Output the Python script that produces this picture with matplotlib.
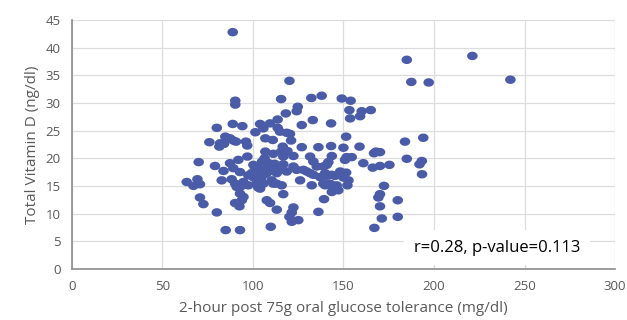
import matplotlib
matplotlib.use('Agg')
import matplotlib.pyplot as plt
import numpy as np
from matplotlib.path import Path

# 2-hour post 75g OGTT (mg/dl)
glucose = [
    88.9, 90.3, 90.3, 120.2, 115.6, 118.2, 124.8, 124.2, 132.3, 138.0,
    149.1, 154.0, 153.3, 160.1, 165.1, 159.2, 153.7, 133.1, 127.0, 143.2,
    185.0, 221.2, 187.5, 197.1, 242.2,
    88.9, 94.2, 80.1, 104.0, 109.5, 113.7, 101.4, 105.8, 113.7, 115.0,
    118.7, 120.5, 121.1, 106.9, 111.0, 84.8, 87.4, 89.2, 76.0, 81.9,
    81.5, 84.1, 90.7, 96.2, 96.9, 151.5, 184.0, 194.1,
    116.5, 115.6, 119.1, 127.0, 136.2, 143.2, 150.0, 158.9, 106.9, 111.3,
    116.8, 122.4, 97.0, 166.9, 168.0, 170.2, 143.6, 131.6, 151.8, 154.6,
    150.9,
    70.1, 79.1, 87.4, 92.0, 100.3, 105.1, 102.1, 108.8, 116.8, 122.4,
    133.4, 135.3, 141.7, 138.9, 140.8, 161.0, 185.0, 193.3, 192.0, 166.2,
    170.2, 175.4,
    83.8, 89.2, 92.9, 99.4, 104.0, 107.7, 113.2, 118.7, 124.2, 129.8,
    115.0, 127.9, 131.6, 133.4, 137.1, 140.8, 145.4, 151.5, 150.0, 148.2,
    143.6, 139.9, 193.4,
    63.5, 67.2, 69.4, 70.8, 82.8, 88.3, 90.2, 94.8, 97.5, 102.1,
    103.0, 110.4, 113.2, 115.9, 126.1, 132.5, 152.8, 152.2, 139.9, 143.6,
    138.9, 142.6, 146.3, 105.8, 104.0, 111.3, 172.4, 144.5, 147.2, 143.6,
    91.1, 93.9,
    92.9, 94.8, 70.8, 72.7, 90.2, 92.6, 93.9, 107.7, 109.5, 116.8,
    113.2, 80.1, 122.4, 121.5, 120.2, 121.5, 125.1, 109.9, 85.0, 92.9,
    136.2, 139.3, 170.2, 169.3, 170.2, 180.0, 180.0, 171.2, 167.1,
    101.0, 103.5, 106.0, 108.0, 110.0, 104.5, 100.5, 97.5, 112.0, 106.5,
]

# Total vitamin D (ng/dl)
vitamin_d = [
    42.8, 30.4, 29.7, 34.0, 30.7, 28.1, 29.3, 28.5, 30.9, 31.3,
    30.8, 30.4, 28.7, 28.5, 28.7, 27.6, 27.2, 26.9, 26.0, 26.3,
    37.8, 38.5, 33.8, 33.7, 34.2,
    26.2, 25.8, 25.5, 26.2, 26.3, 27.0, 24.7, 25.4, 25.5, 24.8,
    24.6, 24.4, 23.2, 23.6, 23.3, 23.9, 23.6, 23.2, 22.9, 22.7,
    22.1, 22.6, 23.0, 23.0, 22.3, 23.9, 23.0, 23.7,
    22.1, 21.2, 21.3, 22.0, 22.0, 22.2, 21.9, 22.1, 21.2, 20.8,
    20.3, 20.4, 20.3, 20.9, 21.2, 21.1, 20.4, 20.3, 20.2, 20.2,
    19.7,
    19.3, 18.6, 19.1, 19.7, 18.8, 19.4, 18.5, 19.1, 18.9, 18.5,
    19.4, 18.5, 19.3, 18.5, 18.8, 19.1, 19.9, 19.5, 18.9, 18.3,
    18.6, 18.8,
    17.7, 18.2, 17.5, 17.3, 17.6, 17.3, 17.3, 17.6, 17.9, 17.6,
    18.2, 17.9, 17.3, 17.0, 16.6, 16.8, 16.8, 17.4, 16.5, 17.6,
    17.0, 17.3, 17.1,
    15.7, 15.0, 16.2, 15.3, 16.0, 16.2, 15.4, 15.7, 15.1, 15.4,
    14.7, 16.0, 15.4, 15.1, 16.0, 15.1, 16.0, 15.1, 15.1, 15.1,
    15.4, 15.4, 15.1, 15.4, 14.5, 15.4, 15.0, 14.7, 14.2, 13.9,
    14.8, 15.0,
    13.6, 13.0, 12.9, 11.7, 11.9, 11.3, 12.4, 12.4, 11.9, 13.5,
    10.7, 10.2, 11.1, 10.2, 9.4, 8.5, 8.8, 7.6, 7.0, 7.0,
    10.3, 12.6, 13.5, 12.9, 11.3, 12.4, 9.4, 9.1, 7.4,
    17.8, 18.0, 17.0, 18.5, 17.8, 16.3, 16.5, 16.9, 19.0, 20.0,
]

x_ticks = [0, 50, 100, 150, 200, 250, 300]
y_ticks = [0, 5, 10, 15, 20, 25, 30, 35, 40, 45]
stat_text = "r=0.28, p-value=0.113"

plt.rcParams['font.family'] = ['Open Sans', 'DejaVu Sans']

fig = plt.figure(figsize=(6.27, 3.2), dpi=100)
ax = fig.add_axes([0.1144, 0.160, 0.8666, 0.7775])

# marker slightly wider than tall, as in the original
t = np.linspace(0, 2 * np.pi, 60)
ellipse = Path(np.column_stack([np.cos(t), 0.8 * np.sin(t)]), closed=True)

ax.scatter(glucose, vitamin_d, s=58, marker=ellipse, color='#4a5ba8',
           edgecolors='none', zorder=3)

ax.set_xlim(0, 300)
ax.set_ylim(0, 45)
ax.set_xticks(x_ticks)
ax.set_yticks(y_ticks)
ax.grid(True, color='#dcdcdc', linewidth=0.9)
ax.set_axisbelow(True)
for side in ['top', 'right']:
    ax.spines[side].set_visible(False)
ax.spines['left'].set_color('#8c8c8c')
ax.spines['bottom'].set_color('#8c8c8c')
ax.spines['left'].set_linewidth(1.2)
ax.spines['bottom'].set_linewidth(1.2)
ax.tick_params(length=0, labelsize=9.5, colors='#595959', pad=8)

ax.set_xlabel('2-hour post 75g oral glucose tolerance (mg/dl)',
              fontsize=11, color='#595959', labelpad=6)
ax.set_ylabel('Total Vitamin D (ng/dl)', fontsize=11, color='#595959',
              labelpad=4)

# white box over the gridlines, under the axis line
ax.text(0.63, 0.085, stat_text, transform=ax.transAxes, fontsize=12,
        color='black', va='center', ha='left', zorder=2,
        bbox=dict(facecolor='white', edgecolor='none', pad=7))

fig.savefig('out.png', dpi=100)
plt.close(fig)
